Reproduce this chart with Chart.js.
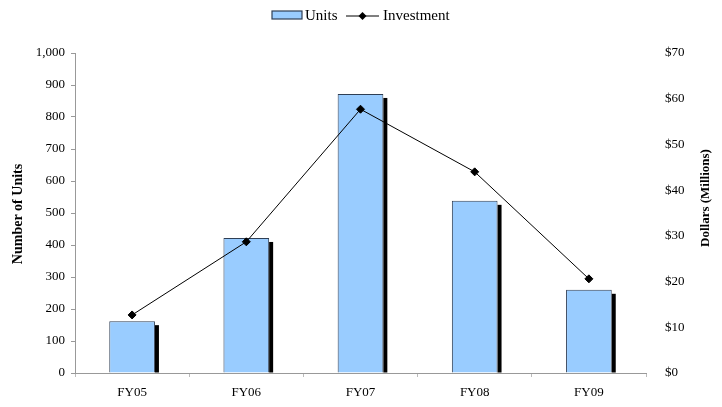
<!DOCTYPE html>
<html>
<head>
<meta charset="utf-8">
<script src="https://cdn.jsdelivr.net/npm/chart.js@4/dist/chart.umd.min.js"></script>
<style>
  body { margin: 0; background: #fff; }
  #chart { display: block; }
</style>
</head>
<body>
<canvas id="chart" width="722" height="407"></canvas>
<script>
// fiscal years and values
const years = ["FY05", "FY06", "FY07", "FY08", "FY09"];
const units = [162, 422, 872, 538, 260];
const investment = [12.7, 28.7, 57.7, 44.0, 20.6]; // $ millions

const serif = "'Liberation Serif', 'Times New Roman', serif";
const barFill = "#99ccff";
const barEdge = "#2f3f55";

// black drop shadow on the right side of each bar
const barShadow = {
  id: "barShadow",
  beforeDatasetDraw(chart, args) {
    if (args.meta.type !== "bar") return;
    const ctx = chart.ctx;
    ctx.save();
    ctx.fillStyle = "#000";
    args.meta.data.forEach(bar => {
      const right = bar.x + bar.width / 2;
      ctx.fillRect(right, bar.y + 4, 4, bar.base - bar.y - 4);
    });
    ctx.restore();
  }
};

// legend and rotated axis titles
const extras = {
  id: "extras",
  afterDraw(chart) {
    const ctx = chart.ctx;
    ctx.save();

    // legend
    const ly = 16;
    ctx.fillStyle = barFill;
    ctx.strokeStyle = barEdge;
    ctx.lineWidth = 1.2;
    ctx.fillRect(272, ly - 5, 30, 8);
    ctx.strokeRect(272, ly - 5, 30, 8);
    ctx.fillStyle = "#000";
    ctx.font = "15px " + serif;
    ctx.textBaseline = "middle";
    ctx.textAlign = "left";
    ctx.fillText("Units", 305, ly);
    ctx.beginPath();
    ctx.moveTo(346, ly);
    ctx.lineTo(379, ly);
    ctx.strokeStyle = "#000";
    ctx.lineWidth = 1;
    ctx.stroke();
    ctx.beginPath();
    ctx.moveTo(362.5, ly - 4);
    ctx.lineTo(366.5, ly);
    ctx.lineTo(362.5, ly + 4);
    ctx.lineTo(358.5, ly);
    ctx.closePath();
    ctx.fill();
    ctx.fillText("Investment", 383, ly);

    // axis titles, both reading bottom to top
    ctx.textAlign = "center";
    ctx.font = "bold 14px " + serif;
    ctx.translate(18, 214);
    ctx.rotate(-Math.PI / 2);
    ctx.fillText("Number of Units", 0, 0);
    ctx.setTransform(1, 0, 0, 1, 0, 0);
    ctx.font = "bold 13px " + serif;
    ctx.translate(706, 198);
    ctx.rotate(-Math.PI / 2);
    ctx.fillText("Dollars (Millions)", 0, 0);
    ctx.restore();
  }
};

new Chart(document.getElementById("chart"), {
  data: {
    labels: years,
    datasets: [
      {
        type: "line",
        label: "Investment",
        data: investment,
        yAxisID: "y1",
        borderColor: "#000",
        backgroundColor: "#000",
        borderWidth: 1,
        pointStyle: "rectRot",
        pointRadius: 4,
        tension: 0,
        order: 0
      },
      {
        type: "bar",
        label: "Units",
        data: units,
        yAxisID: "y",
        backgroundColor: barFill,
        borderColor: barEdge,
        borderWidth: 1,
        categoryPercentage: 1,
        barPercentage: 0.4,
        order: 1
      }
    ]
  },
  options: {
    responsive: false,
    animation: false,
    layout: { padding: { top: 53, bottom: 0, left: 0, right: 0 } },
    plugins: {
      legend: { display: false },
      tooltip: { enabled: false }
    },
    scales: {
      x: {
        offset: true,
        grid: {
          offset: true,
          drawOnChartArea: false,
          color: "#bbb",
          tickLength: 4
        },
        border: { color: "#999" },
        ticks: { color: "#000", font: { family: serif, size: 13 }, padding: 8 },
        afterFit: s => { s.height = 34; }
      },
      y: {
        position: "left",
        min: 0,
        max: 1000,
        grid: { drawOnChartArea: false, color: "#999", tickLength: 4 },
        border: { color: "#999" },
        ticks: {
          stepSize: 100,
          color: "#000",
          font: { family: serif, size: 13 },
          padding: 6,
          callback: v => v.toLocaleString("en-US")
        },
        afterFit: s => { s.width = 75; }
      },
      y1: {
        position: "right",
        min: 0,
        max: 70,
        grid: { display: false },
        border: { display: false },
        ticks: {
          stepSize: 10,
          color: "#000",
          font: { family: serif, size: 13 },
          padding: 11,
          callback: v => "$" + v
        },
        afterFit: s => { s.width = 76; }
      }
    }
  },
  plugins: [barShadow, extras]
});
</script>
</body>
</html>
